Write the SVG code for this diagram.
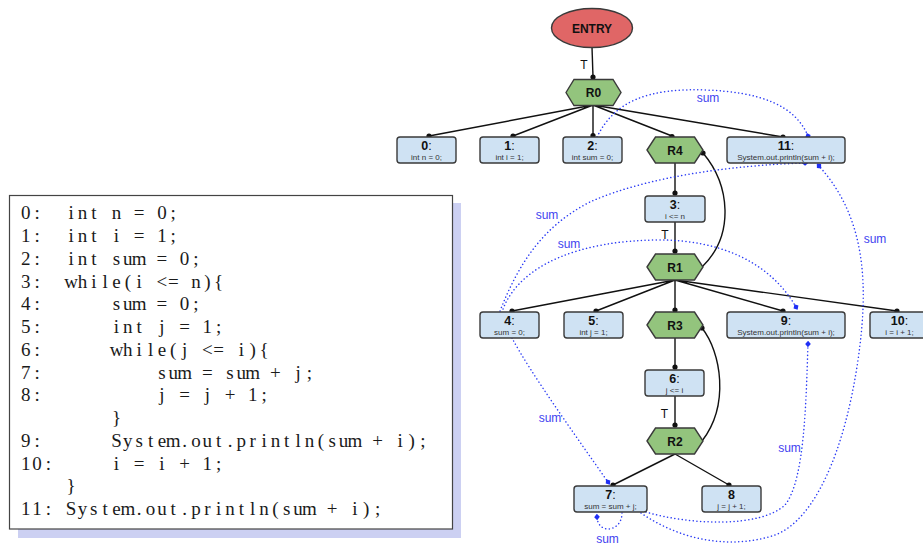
<svg xmlns="http://www.w3.org/2000/svg" width="923" height="546" viewBox="0 0 923 546">
<defs>
<style>
.box{fill:#cfe2f3;stroke:#3a3a3a;stroke-width:1.4}
.hex{fill:#93c47d;stroke:#3a3a3a;stroke-width:1.4}
.entry{fill:#e06666;stroke:#3a3a3a;stroke-width:1.4}
.num{font-family:"Liberation Sans",Arial,sans-serif;font-size:12.5px;fill:#111;text-anchor:middle}
.num tspan{font-weight:bold}
.sub{font-family:"Liberation Sans",Arial,sans-serif;font-size:8px;fill:#333;text-anchor:middle}
.hlab{font-family:"Liberation Sans",Arial,sans-serif;font-size:12px;font-weight:bold;fill:#111;text-anchor:middle}
.edge{fill:none;stroke:#111;stroke-width:1.4}
.dot{fill:#111}
.flow{fill:none;stroke:#2b3cf5;stroke-width:1.5;stroke-dasharray:0.1 3.6;stroke-linecap:round;marker-end:url(#dia)}
.flab{font-family:"Liberation Sans",Arial,sans-serif;font-size:12px;fill:#3f3ff0;text-anchor:middle}
.tlab{font-family:"Liberation Sans",Arial,sans-serif;font-size:12px;fill:#111;text-anchor:middle}
.code{font-family:"Liberation Serif","Times New Roman",serif;font-size:19px;fill:#1a1a1a;text-anchor:middle}
</style>
<marker id="dia" viewBox="0 0 6 6" refX="3" refY="3" markerWidth="6.5" markerHeight="6.5" markerUnits="userSpaceOnUse" orient="auto">
<path d="M0,3 L3,0.4 L6,3 L3,5.6 Z" fill="#1f2ff5"/>
</marker>
</defs>

<!-- code listing -->
<g id="code-listing">
<rect x="18" y="203" width="443" height="335" fill="#ccd0f2"/>
<rect x="9.5" y="195.5" width="443" height="333.5" fill="#ffffff" stroke="#444" stroke-width="1.2"/>
<g class="code" xml:space="preserve">
<text x="25.7 37.05" y="219.3">0:</text>
<text x="71.1 82.45 93.8 105.15 116.5 127.85 139.2 150.55 161.9 173.25" y="219.3">int n = 0;</text>
<text x="25.7 37.05" y="242.05">1:</text>
<text x="71.1 82.45 93.8 105.15 116.5 127.85 139.2 150.55 161.9 173.25" y="242.05">int i = 1;</text>
<text x="25.7 37.05" y="264.8">2:</text>
<text x="71.1 82.45 93.8 105.15 116.5 127.85 139.2 150.55 161.9 173.25 184.6 195.95" y="264.8">int sum = 0;</text>
<text x="25.7 37.05" y="287.55">3:</text>
<text x="71.1 82.45 93.8 105.15 116.5 127.85 139.2 150.55 161.9 173.25 184.6 195.95 207.3 218.65" y="287.55">while(i &lt;= n){</text>
<text x="25.7 37.05" y="310.3">4:</text>
<text x="116.5 127.85 139.2 150.55 161.9 173.25 184.6 195.95" y="310.3">sum = 0;</text>
<text x="25.7 37.05" y="333.05">5:</text>
<text x="116.5 127.85 139.2 150.55 161.9 173.25 184.6 195.95 207.3 218.65" y="333.05">int j = 1;</text>
<text x="25.7 37.05" y="355.8">6:</text>
<text x="116.5 127.85 139.2 150.55 161.9 173.25 184.6 195.95 207.3 218.65 230 241.35 252.7 264.05" y="355.8">while(j &lt;= i){</text>
<text x="25.7 37.05" y="378.55">7:</text>
<text x="161.9 173.25 184.6 195.95 207.3 218.65 230 241.35 252.7 264.05 275.4 286.75 298.1 309.45" y="378.55">sum = sum + j;</text>
<text x="25.7 37.05" y="401.3">8:</text>
<text x="161.9 173.25 184.6 195.95 207.3 218.65 230 241.35 252.7 264.05" y="401.3">j = j + 1;</text>
<text x="116.5" y="424.05">}</text>
<text x="25.7 37.05" y="446.8">9:</text>
<text x="116.5 127.85 139.2 150.55 161.9 173.25 184.6 195.95 207.3 218.65 230 241.35 252.7 264.05 275.4 286.75 298.1 309.45 320.8 332.15 343.5 354.85 366.2 377.55 388.9 400.25 411.6 422.95" y="446.8">System.out.println(sum + i);</text>
<text x="25.7 37.05 48.4" y="469.55">10:</text>
<text x="116.5 127.85 139.2 150.55 161.9 173.25 184.6 195.95 207.3 218.65" y="469.55">i = i + 1;</text>
<text x="71.1" y="492.3">}</text>
<text x="25.7 37.05 48.4" y="515.05">11:</text>
<text x="71.1 82.45 93.8 105.15 116.5 127.85 139.2 150.55 161.9 173.25 184.6 195.95 207.3 218.65 230 241.35 252.7 264.05 275.4 286.75 298.1 309.45 320.8 332.15 343.5 354.85 366.2 377.55" y="515.05">System.out.println(sum + i);</text>
</g>
</g>

<!-- connectors -->
<g id="connectors">
<path class="edge" d="M592,47 L593,77"/>
<path class="edge" d="M593,105 L429,136 M593,105 L513,136 M593,105 L593,136 M593,105 L672,136 M593,105 L783,137"/>
<path class="edge" d="M675,163 L675,193"/>
<path class="edge" d="M675,222 L675,251"/>
<path class="edge" d="M703,153 C730,185 735,235 702,267"/>
<path class="edge" d="M675,280 L512,311 M675,280 L596,311 M675,280 L675,310 M675,280 L783,311 M675,280 L897,311"/>
<path class="edge" d="M675,338 L675,367"/>
<path class="edge" d="M675,396 L675,425"/>
<path class="edge" d="M702,328 C721,352 730,405 702,441"/>
<path class="edge" d="M675,454 L613,485 M675,454 L729,485"/>
<g class="dot">
<circle cx="593" cy="77" r="2.6"/>
<circle cx="429" cy="136" r="2.6"/>
<circle cx="513" cy="136" r="2.6"/>
<circle cx="593" cy="135.5" r="2.6"/>
<circle cx="672" cy="136.5" r="2.6"/>
<circle cx="783" cy="137" r="2.6"/>
<circle cx="675" cy="193" r="2.6"/>
<circle cx="675" cy="251" r="2.6"/>
<circle cx="703" cy="153" r="2.6"/>
<circle cx="512" cy="311" r="2.6"/>
<circle cx="596" cy="311" r="2.6"/>
<circle cx="675" cy="310" r="2.6"/>
<circle cx="783" cy="311" r="2.6"/>
<circle cx="897" cy="311" r="2.6"/>
<circle cx="702" cy="328" r="2.6"/>
<circle cx="675" cy="367" r="2.6"/>
<circle cx="675" cy="425" r="2.6"/>
<circle cx="613" cy="485" r="2.6"/>
<circle cx="729" cy="485" r="2.6"/>
</g>
<text class="tlab" x="584" y="69">T</text>
<text class="tlab" x="665" y="239">T</text>
<text class="tlab" x="664.5" y="417.5">T</text>

<path class="flow" d="M597,137 C615,100 650,88 706,90 C760,92 795,105 808,136"/>
<path class="flow" d="M500,311 C520,260 545,225 590,202 C650,175 740,165 805,163"/>
<path class="flow" d="M503,309 C520,265 580,240 660,240 C720,240 770,262 796,307"/>
<path class="flow" d="M641,513 C680,540 730,550 775,535 C815,520 845,450 858,360 C868,290 868,220 819,166"/>
<path class="flow" d="M646,512 C690,525 760,528 785,505 C805,480 806,400 808,344"/>
<path class="flow" d="M512,338 C530,372 575,435 608,482"/>
<path class="flow" d="M622,513 C622,532 598,535 597,517"/>
<text class="flab" x="708" y="101.5">sum</text>
<text class="flab" x="547" y="219">sum</text>
<text class="flab" x="569" y="247.5">sum</text>
<text class="flab" x="875" y="243">sum</text>
<text class="flab" x="550" y="421.5">sum</text>
<text class="flab" x="789.5" y="451.5">sum</text>
<text class="flab" x="607.5" y="542.5">sum</text>
</g>

<!-- nodes -->
<g id="ENTRY">
<ellipse class="entry" cx="592" cy="28" rx="40.5" ry="19.5"/>
<text class="hlab" x="592" y="32.5">ENTRY</text>
</g>
<g id="R0">
<polygon class="hex" points="566,92.5 574,79.5 613,79.5 621,92.5 613,105.5 574,105.5"/>
<text class="hlab" x="593.5" y="97">R0</text>
</g>
<g id="N0">
<rect class="box" x="397" y="137" width="59" height="26" rx="3"/>
<text class="num" x="426.5" y="150"><tspan>0</tspan>:</text>
<text class="sub" x="426.5" y="159.5">int n = 0;</text>
</g>
<g id="N1">
<rect class="box" x="480" y="137" width="59" height="26" rx="3"/>
<text class="num" x="509.5" y="150"><tspan>1</tspan>:</text>
<text class="sub" x="509.5" y="159.5">int i = 1;</text>
</g>
<g id="N2">
<rect class="box" x="563" y="137" width="59" height="26" rx="3"/>
<text class="num" x="592.5" y="150"><tspan>2</tspan>:</text>
<text class="sub" x="592.5" y="159.5">int sum = 0;</text>
</g>
<g id="R4">
<polygon class="hex" points="647,150 655.5,137 694.5,137 703,150 694.5,163 655.5,163"/>
<text class="hlab" x="675" y="154.5">R4</text>
</g>
<g id="N11">
<rect class="box" x="727" y="137" width="118" height="26" rx="3"/>
<text class="num" x="786" y="150"><tspan>11</tspan>:</text>
<text class="sub" x="786" y="159.5">System.out.println(sum + i);</text>
</g>
<g id="N3">
<rect class="box" x="645" y="196" width="60" height="26" rx="3"/>
<text class="num" x="675" y="209"><tspan>3</tspan>:</text>
<text class="sub" x="675" y="218.5">i &lt;= n</text>
</g>
<g id="R1">
<polygon class="hex" points="647,267 655.5,254 694.5,254 703,267 694.5,280 655.5,280"/>
<text class="hlab" x="675" y="271.5">R1</text>
</g>
<g id="N4">
<rect class="box" x="480" y="312" width="59" height="26" rx="3"/>
<text class="num" x="509.5" y="324.5"><tspan>4</tspan>:</text>
<text class="sub" x="509.5" y="334.5">sum = 0;</text>
</g>
<g id="N5">
<rect class="box" x="564" y="312" width="59" height="26" rx="3"/>
<text class="num" x="593.5" y="324.5"><tspan>5</tspan>:</text>
<text class="sub" x="593.5" y="334.5">int j = 1;</text>
</g>
<g id="R3">
<polygon class="hex" points="647,325 655.5,312 694.5,312 703,325 694.5,338 655.5,338"/>
<text class="hlab" x="675" y="329.5">R3</text>
</g>
<g id="N9">
<rect class="box" x="727" y="312" width="118" height="26" rx="3"/>
<text class="num" x="786" y="324.5"><tspan>9</tspan>:</text>
<text class="sub" x="786" y="334.5">System.out.println(sum + i);</text>
</g>
<g id="N10">
<rect class="box" x="870" y="312" width="59" height="26" rx="3"/>
<text class="num" x="899.5" y="324.5"><tspan>10</tspan>:</text>
<text class="sub" x="899.5" y="334.5">i = i + 1;</text>
</g>
<g id="N6">
<rect class="box" x="645" y="370" width="59" height="26" rx="3"/>
<text class="num" x="674.5" y="383"><tspan>6</tspan>:</text>
<text class="sub" x="674.5" y="392.5">j &lt;= i</text>
</g>
<g id="R2">
<polygon class="hex" points="647,441 655.5,428 694.5,428 703,441 694.5,454 655.5,454"/>
<text class="hlab" x="675" y="445.5">R2</text>
</g>
<g id="N7">
<rect class="box" x="574" y="486" width="73" height="26" rx="3"/>
<text class="num" x="610.5" y="499"><tspan>7</tspan>:</text>
<text class="sub" x="610.5" y="508.5">sum = sum + j;</text>
</g>
<g id="N8">
<rect class="box" x="702" y="486" width="59" height="26" rx="3"/>
<text class="num" x="731.5" y="499"><tspan>8</tspan></text>
<text class="sub" x="731.5" y="508.5">j = j + 1;</text>
</g>
</svg>
